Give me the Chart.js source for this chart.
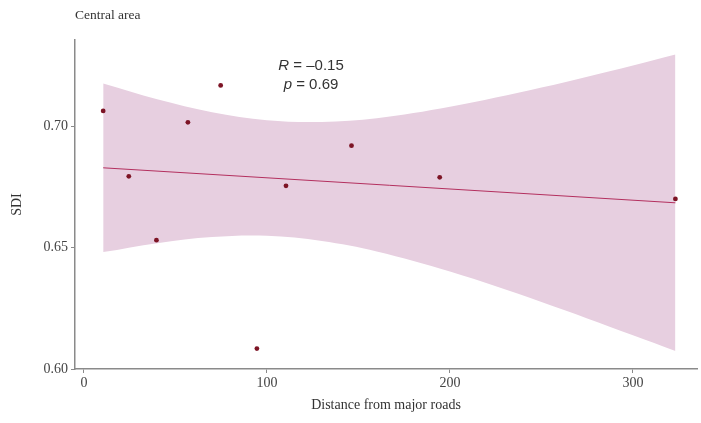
<!DOCTYPE html>
<html>
<head>
<meta charset="utf-8">
<script src="https://cdn.jsdelivr.net/npm/chart.js@4.4.1/dist/chart.umd.min.js"></script>
<style>
  html, body { margin: 0; padding: 0; background: #fff; }
  #wrap { width: 701px; height: 423px; position: relative; }
</style>
</head>
<body>
<div id="wrap"><canvas id="chart"></canvas></div>
<script>
// observed points
const distance = [10.5, 24.5, 39.6, 56.8, 74.7, 94.5, 110.4, 146.2, 194.4, 323.2];
const sdi = [0.7062, 0.6793, 0.6530, 0.7015, 0.7167, 0.6084, 0.6754, 0.6919, 0.6789, 0.6700];

// fitted line and its confidence band
const fitX = [10.5, 323.2];
const fitY = [0.6828, 0.6684];
const bandX = [10.5, 40, 70, 100, 130, 160, 200, 250, 300, 323.2];
const bandUpper = [0.7175, 0.7110, 0.7057, 0.7024, 0.7017, 0.7032, 0.7079, 0.7158, 0.7249, 0.7294];
const bandLower = [0.6481, 0.6518, 0.6543, 0.6548, 0.6527, 0.6484, 0.6401, 0.6276, 0.6139, 0.6074];

const xTicks = [0, 100, 200, 300];
const yTicks = [0.60, 0.65, 0.70];
const statLines = ['R = \u20130.15', 'p = 0.69'];

const pts = (xs, ys) => xs.map((x, i) => ({ x: x, y: ys[i] }));

const serif = '"Liberation Serif", "Times New Roman", serif';
const axisGrey = '#8a8a8a';

const textPlugin = {
  id: 'texts',
  afterDraw(chart) {
    const ctx = chart.ctx;
    ctx.save();
    ctx.fillStyle = '#333';
    ctx.font = '13.5px ' + serif;
    ctx.textAlign = 'left';
    ctx.textBaseline = 'middle';
    ctx.fillText('Central area', chart.chartArea.left, 15);

    // R / p annotation, letter in italics
    const sans = '"Liberation Sans", Arial, sans-serif';
    const rows = [[statLines[0].slice(0, 1), statLines[0].slice(1), 66], [statLines[1].slice(0, 1), statLines[1].slice(1), 85]];
    rows.forEach(function (r) {
      ctx.font = 'italic 15px ' + sans;
      const w1 = ctx.measureText(r[0]).width;
      ctx.font = '15px ' + sans;
      const w2 = ctx.measureText(r[1]).width;
      const x0 = 311 - (w1 + w2) / 2;
      ctx.font = 'italic 15px ' + sans;
      ctx.fillText(r[0], x0, r[2]);
      ctx.font = '15px ' + sans;
      ctx.fillText(r[1], x0 + w1, r[2]);
    });
    ctx.restore();
  }
};

new Chart(document.getElementById('chart'), {
  type: 'scatter',
  data: {
    datasets: [
      {
        label: 'SDI',
        data: pts(distance, sdi),
        backgroundColor: '#7d1425',
        borderColor: '#7d1425',
        pointRadius: 2.4,
        pointBorderWidth: 0
      },
      {
        label: 'fit',
        data: pts(fitX, fitY),
        showLine: true,
        borderColor: '#b4305f',
        borderWidth: 1,
        pointRadius: 0
      },
      {
        label: 'upper',
        data: pts(bandX, bandUpper),
        showLine: true,
        borderWidth: 0,
        borderColor: 'rgba(0,0,0,0)',
        pointRadius: 0,
        tension: 0.35,
        fill: '+1',
        backgroundColor: '#e7cfe0'
      },
      {
        label: 'lower',
        data: pts(bandX, bandLower),
        showLine: true,
        borderWidth: 0,
        borderColor: 'rgba(0,0,0,0)',
        pointRadius: 0,
        tension: 0.35,
        fill: false
      }
    ]
  },
  options: {
    responsive: true,
    maintainAspectRatio: false,
    animation: false,
    layout: { padding: { top: 40, right: 0, bottom: 0, left: 0 } },
    plugins: {
      legend: { display: false },
      tooltip: { enabled: false }
    },
    scales: {
      x: {
        type: 'linear',
        min: -4.9,
        max: 335,
        afterBuildTicks: (s) => { s.ticks = xTicks.map(v => ({ value: v })); },
        afterFit: (s) => { s.height = 54; },
        grid: { display: true, drawOnChartArea: false, tickLength: 4, color: axisGrey },
        border: { color: axisGrey, width: 1.5 },
        ticks: { color: '#444', font: { family: serif, size: 14 }, padding: 2 },
        title: {
          display: true,
          text: 'Distance from major roads',
          color: '#333',
          font: { family: serif, size: 14 },
          padding: { top: 0, bottom: 9 }
        }
      },
      y: {
        type: 'linear',
        min: 0.60,
        max: 0.7354,
        afterBuildTicks: (s) => { s.ticks = yTicks.map(v => ({ value: v })); },
        afterFit: (s) => { s.width = 75; },
        grid: { display: true, drawOnChartArea: false, tickLength: 4, color: axisGrey },
        border: { color: axisGrey, width: 1.5 },
        ticks: {
          color: '#444',
          font: { family: serif, size: 14 },
          padding: 3,
          callback: (v) => v.toFixed(2)
        },
        title: {
          display: true,
          text: 'SDI',
          color: '#333',
          font: { family: serif, size: 14 },
          padding: { top: 9, bottom: 0 }
        }
      }
    }
  },
  plugins: [textPlugin]
});
</script>
</body>
</html>
